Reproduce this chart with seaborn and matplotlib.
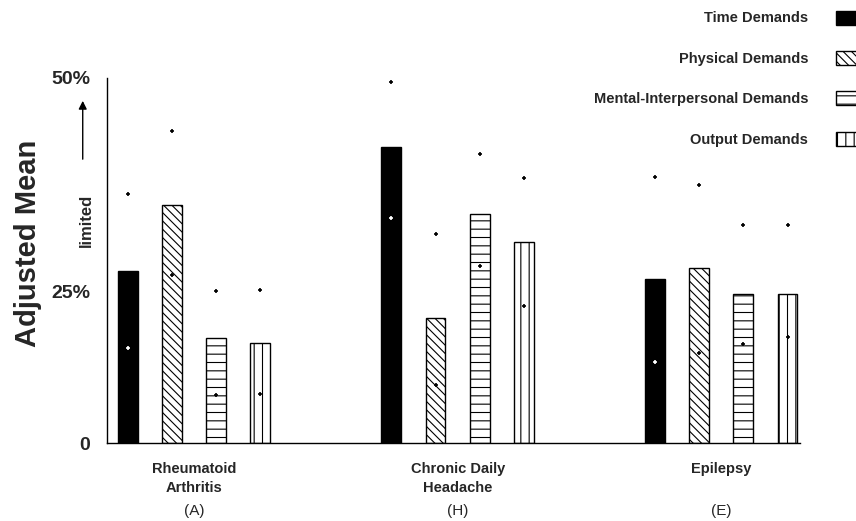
import pandas as pd
import numpy as np
import matplotlib
matplotlib.use("Agg")
import matplotlib.pyplot as plt
import seaborn as sns
from matplotlib.patches import Patch

# data (axis units: 0..50 over the drawn axis)
conditions = ["Rheumatoid\nArthritis", "Chronic Daily\nHeadache", "Epilepsy"]
codes = ["(A)", "(H)", "(E)"]
demands = ["Time Demands", "Physical Demands", "Mental-Interpersonal Demands", "Output Demands"]

time_mean = [23.6, 40.5, 22.5]
physical_mean = [32.6, 17.1, 24.0]
mental_mean = [14.4, 31.4, 20.4]
output_mean = [13.7, 27.5, 20.4]

time_hi = [34.1, 49.5, 36.4]
physical_hi = [42.7, 28.6, 35.3]
mental_hi = [20.8, 39.6, 29.9]
output_hi = [21.0, 36.3, 29.9]

time_lo = [13.0, 30.8, 11.1]
physical_lo = [23.0, 7.9, 12.3]
mental_lo = [6.6, 24.2, 13.6]
output_lo = [6.7, 18.8, 14.5]

ytick_vals = [0, 20.7, 50]
ytick_text = ["0", "25%", "50%"]

means = [time_mean, physical_mean, mental_mean, output_mean]
his = [time_hi, physical_hi, mental_hi, output_hi]
los = [time_lo, physical_lo, mental_lo, output_lo]

rows = []
for d, m, h, l in zip(demands, means, his, los):
    for c, mv, hv, lv in zip(conditions, m, h, l):
        rows.append({"condition": c, "demand": d, "mean": mv, "hi": hv, "lo": lv})
df = pd.DataFrame(rows)

sns.set_style("white")
plt.rcParams["font.family"] = ["Liberation Sans", "DejaVu Sans"]
plt.rcParams["hatch.linewidth"] = 0.8

fig = plt.figure(figsize=(8.56, 5.21), dpi=100)
ax = fig.add_axes([0.125, 0.1497, 0.81, 0.7006])

colors = ["black", "white", "white", "white"]
sns.barplot(data=df, x="condition", y="mean", hue="demand", hue_order=demands,
            order=conditions, palette=colors, edgecolor="black", linewidth=1.0,
            width=0.67, gap=0.55, errorbar=None, legend=False, ax=ax)

hatches = [None, "\\\\\\\\", "--", "||"]
for cont, hatch, d in zip(ax.containers, hatches, demands):
    sub = df[df["demand"] == d].set_index("condition").loc[conditions]
    xs = [p.get_x() + p.get_width() / 2 for p in cont.patches]
    for p in cont.patches:
        if hatch:
            p.set_hatch(hatch)
    inner = "white" if d == "Time Demands" else "black"
    ax.scatter(xs, sub["hi"], marker="+", s=10, color="black", linewidths=1.2, zorder=5)
    ax.scatter(xs, sub["lo"], marker="+", s=10, color=inner, linewidths=1.2, zorder=5)

ax.set_ylim(0, 50)
ax.set_xlim(-0.33, 2.30)
ax.set_yticks(ytick_vals)
ax.set_yticklabels(ytick_text, fontsize=14, fontweight="bold")
ax.tick_params(axis="y", length=0, pad=12)
ax.tick_params(axis="x", length=0, pad=14)
ax.set_xticks(range(len(conditions)))
ax.set_xticklabels(conditions, fontsize=10.5, fontweight="bold", linespacing=1.45)
for i, code in enumerate(codes):
    ax.text(i, -0.185, code, transform=ax.get_xaxis_transform(), ha="center",
            va="center", fontsize=11)
ax.set_xlabel("")
ax.set_ylabel("")
fig.text(28 / 856, 1 - 243 / 521, "Adjusted Mean", rotation=90, ha="center",
         va="center", fontsize=21, fontweight="bold")

for s in ["top", "right"]:
    ax.spines[s].set_visible(False)
for s in ["left", "bottom"]:
    ax.spines[s].set_color("black")
    ax.spines[s].set_linewidth(1.0)

# "limited" with an arrow pointing up
ax.text(-0.03, 0.61, "limited", transform=ax.transAxes, rotation=90,
        ha="center", va="center", fontsize=12, fontweight="bold")
ax.annotate("", xy=(-0.035, 0.945), xytext=(-0.035, 0.77), xycoords="axes fraction",
            arrowprops=dict(arrowstyle="-|>", color="black", lw=1.0, mutation_scale=12),
            annotation_clip=False)

handles = [Patch(facecolor=c, edgecolor="black", hatch=h, label=d)
           for c, h, d in zip(colors, hatches, demands)]
fig.legend(handles=handles, loc="upper right", bbox_to_anchor=(1.019, 1.005),
           frameon=False, markerfirst=False, labelspacing=1.75, handlelength=1.6,
           handleheight=1.1, handletextpad=1.9,
           prop={"weight": "bold", "size": 10.5})

fig.savefig("out.png", dpi=100)
